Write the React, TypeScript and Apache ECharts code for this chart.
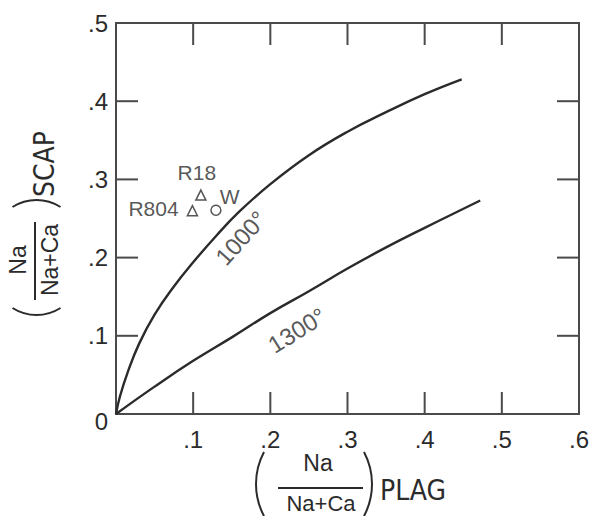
import React, { useEffect, useRef } from "react";
import * as echarts from "echarts";

// ---- data ----
const xTicks = [0, 0.1, 0.2, 0.3, 0.4, 0.5, 0.6];
const yTicks = [0, 0.1, 0.2, 0.3, 0.4, 0.5];

const plag1000 = [0, 0.005, 0.015, 0.03, 0.05, 0.075, 0.1, 0.13, 0.16, 0.2, 0.25, 0.3, 0.35, 0.4, 0.448];
const scap1000 = [0, 0.022, 0.053, 0.09, 0.127, 0.163, 0.194, 0.228, 0.259, 0.294, 0.331, 0.361, 0.386, 0.409, 0.428];

const plag1300 = [0, 0.05, 0.1, 0.15, 0.2, 0.25, 0.3, 0.35, 0.4, 0.472];
const scap1300 = [0, 0.035, 0.068, 0.098, 0.129, 0.157, 0.186, 0.213, 0.238, 0.273];

const sampleNames = ["R18", "R804", "W"];
const samplePlag = [0.11, 0.099, 0.1295];
const sampleScap = [0.28, 0.26, 0.2606];
const sampleSymbols = ["triangle", "triangle", "circle"];

const curveLabelNames = ["1000°", "1300°"];
const curveLabelPlag = [0.162, 0.2346];
const curveLabelScap = [0.225, 0.107];
const curveLabelAngles = [48, 32];

const FONT = '"Liberation Sans", Arial, sans-serif';
const NARROW = '"Liberation Sans Narrow", "DejaVu Sans Condensed", "Liberation Sans", sans-serif';
const INK = "#2b2b2b";
const AXIS = "#4a4a4a";
const TICK_LEN = 22;

const fmt = (v: number) => (v === 0 ? "0" : v.toFixed(1).replace(/^0/, ""));

export default function App() {
  const ref = useRef<HTMLDivElement>(null);

  useEffect(() => {
    if (!ref.current) return;
    const chart = echarts.init(ref.current, undefined, { renderer: "svg" });

    const xMin = xTicks[0];
    const xMax = xTicks[xTicks.length - 1];
    const yMin = yTicks[0];
    const yMax = yTicks[yTicks.length - 1];

    const axisCommon = {
      type: "value" as const,
      interval: 0.1,
      splitLine: { show: false },
      axisLine: { show: true, onZero: false, lineStyle: { color: AXIS, width: 2 } },
      axisTick: { show: false },
    };

    const tickLabel = {
      fontFamily: FONT,
      fontSize: 24,
      color: INK,
    };

    const line1000 = plag1000.map((x, i) => [x, scap1000[i]]);
    const line1300 = plag1300.map((x, i) => [x, scap1300[i]]);

    const labelPlacement: any[] = [
      { position: "top", distance: 6, offset: [-4, 0] },
      { position: "left", distance: 8, offset: [0, -2] },
      { position: "right", distance: 0, offset: [-2, -14] },
    ];

    const samples = sampleNames.map((n, i) => ({
      name: n,
      value: [samplePlag[i], sampleScap[i]],
      symbol: sampleSymbols[i],
      label: { show: true, formatter: "{b}", ...labelPlacement[i] },
    }));

    const curveLabels = curveLabelNames.map((n, i) => ({
      name: n,
      value: [curveLabelPlag[i], curveLabelScap[i]],
      label: { rotate: curveLabelAngles[i] },
    }));

    const tickStyle = { stroke: AXIS, lineWidth: 2 };

    const xTickData = xTicks.slice(1, -1).map((v) => [v, yMin]);
    const yTickData = yTicks.slice(1, -1).map((v) => [xMin, v]);

    const arcStyle = { stroke: INK, lineWidth: 2, fill: "none" };

    chart.setOption({
      animation: false,
      backgroundColor: "#ffffff",
      grid: { left: 116, top: 23, right: 11, bottom: 102, containLabel: false },
      xAxis: [
        {
          ...axisCommon,
          min: xMin,
          max: xMax,
          position: "bottom",
          axisLabel: {
            ...tickLabel,
            margin: 13,
            formatter: (v: number) => (v === 0 ? "" : fmt(v)),
          },
        },
        {
          ...axisCommon,
          min: xMin,
          max: xMax,
          position: "top",
          axisLabel: { show: false },
        },
      ],
      yAxis: [
        {
          ...axisCommon,
          min: yMin,
          max: yMax,
          position: "left",
          axisLabel: {
            ...tickLabel,
            margin: 8,
            formatter: (v: number) => (v === 0 ? "{z|0}" : fmt(v)),
            rich: { z: { fontFamily: FONT, fontSize: 24, color: INK, padding: [14, 0, 0, 0] } },
          },
        },
        {
          ...axisCommon,
          min: yMin,
          max: yMax,
          position: "right",
          axisLabel: { show: false },
        },
      ],
      series: [
        {
          type: "custom",
          name: "xTicks",
          data: xTickData,
          clip: false,
          silent: true,
          encode: { x: 0, y: 1 },
          renderItem: (_p: any, api: any) => {
            const v = api.value(0);
            const b = api.coord([v, yMin]);
            const t = api.coord([v, yMax]);
            return {
              type: "group",
              children: [
                { type: "line", shape: { x1: b[0], y1: b[1], x2: b[0], y2: b[1] - TICK_LEN }, style: tickStyle },
                { type: "line", shape: { x1: t[0], y1: t[1], x2: t[0], y2: t[1] + TICK_LEN }, style: tickStyle },
              ],
            };
          },
        },
        {
          type: "custom",
          name: "yTicks",
          data: yTickData,
          clip: false,
          silent: true,
          encode: { x: 0, y: 1 },
          renderItem: (_p: any, api: any) => {
            const v = api.value(1);
            const l = api.coord([xMin, v]);
            const r = api.coord([xMax, v]);
            return {
              type: "group",
              children: [
                { type: "line", shape: { x1: l[0], y1: l[1], x2: l[0] + TICK_LEN, y2: l[1] }, style: tickStyle },
                { type: "line", shape: { x1: r[0], y1: r[1], x2: r[0] - TICK_LEN, y2: r[1] }, style: tickStyle },
              ],
            };
          },
        },
        {
          type: "line",
          name: "1000",
          data: line1000,
          smooth: 0.45,
          showSymbol: false,
          lineStyle: { color: INK, width: 2.4 },
        },
        {
          type: "line",
          name: "1300",
          data: line1300,
          smooth: 0.45,
          showSymbol: false,
          lineStyle: { color: INK, width: 2.4 },
        },
        {
          type: "scatter",
          name: "samples",
          data: samples,
          symbolSize: 10,
          itemStyle: { color: "#ffffff", borderColor: INK, borderWidth: 1.5 },
          label: { fontFamily: FONT, fontSize: 21, color: INK },
        },
        {
          type: "scatter",
          name: "curveLabels",
          data: curveLabels,
          symbolSize: 0,
          silent: true,
          label: {
            show: true,
            position: "inside",
            formatter: "{b}",
            fontFamily: FONT,
            fontSize: 24,
            color: INK,
          },
        },
      ],
      graphic: [
        // x-axis name: (Na / Na+Ca) PLAG
        {
          type: "group",
          children: [
            { type: "arc", shape: { cx: 324, cy: 484, r: 68, startAngle: Math.PI - 0.49, endAngle: Math.PI + 0.49, clockwise: true }, style: arcStyle },
            { type: "arc", shape: { cx: 304, cy: 484, r: 68, startAngle: -0.49, endAngle: 0.49, clockwise: true }, style: arcStyle },
            { type: "text", x: 318, y: 463, style: { text: "Na", fontFamily: FONT, fontSize: 23, fill: INK, textAlign: "center", textVerticalAlign: "middle" } },
            { type: "line", shape: { x1: 278, y1: 488, x2: 363, y2: 488 }, style: { stroke: INK, lineWidth: 2 } },
            { type: "text", x: 321, y: 503, style: { text: "Na+Ca", fontFamily: FONT, fontSize: 22, fill: INK, textAlign: "center", textVerticalAlign: "middle" } },
            { type: "text", x: 380, y: 490, style: { text: "PLAG", fontFamily: NARROW, fontSize: 28, fill: INK, textAlign: "left", textVerticalAlign: "middle" } },
          ],
        },
        // y-axis name: (Na / Na+Ca) SCAP, rotated
        {
          type: "group",
          x: 35,
          y: 260,
          rotation: Math.PI / 2,
          children: [
            { type: "arc", shape: { cx: -10.4, cy: 1.5, r: 44.6, startAngle: Math.PI - 0.568, endAngle: Math.PI + 0.568, clockwise: true }, style: arcStyle },
            { type: "arc", shape: { cx: 15.4, cy: 1.5, r: 44.6, startAngle: -0.568, endAngle: 0.568, clockwise: true }, style: arcStyle },
            { type: "text", x: 0, y: -17, style: { text: "Na", fontFamily: FONT, fontSize: 23, fill: INK, textAlign: "center", textVerticalAlign: "middle" } },
            { type: "line", shape: { x1: -40, y1: 0, x2: 38, y2: 0 }, style: { stroke: INK, lineWidth: 2 } },
            { type: "text", x: 0, y: 15, style: { text: "Na+Ca", fontFamily: FONT, fontSize: 23, fill: INK, textAlign: "center", textVerticalAlign: "middle" } },
            { type: "text", x: 63, y: 9, style: { text: "SCAP", fontFamily: NARROW, fontSize: 28, fill: INK, textAlign: "left", textVerticalAlign: "middle" } },
          ],
        },
      ],
    });

    return () => chart.dispose();
  }, []);

  return (
    <div
      ref={ref}
      style={{ position: "absolute", left: 0, top: 0, width: 592, height: 516, background: "#fff" }}
    />
  );
}
